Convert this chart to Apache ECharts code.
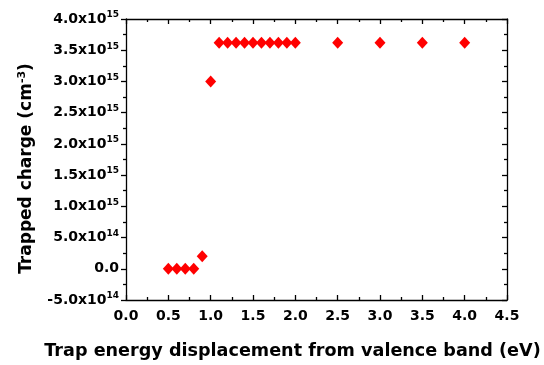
<!DOCTYPE html>
<html><head><meta charset="utf-8">
<script src="https://cdn.jsdelivr.net/npm/echarts@6/dist/echarts.min.js"></script>
<style>html,body{margin:0;padding:0;background:#fff}#c{width:544px;height:365px}</style>
</head><body><div id="c"></div>
<script>
const xValues = [0.5, 0.6, 0.7, 0.8, 0.9, 1.0, 1.1, 1.2, 1.3, 1.4, 1.5, 1.6, 1.7, 1.8, 1.9, 2.0, 2.5, 3.0, 3.5, 4.0];
const yValues = [0, 0, 0, 0, 2.0e14, 3.0e15, 3.62e15, 3.62e15, 3.62e15, 3.62e15, 3.62e15, 3.62e15, 3.62e15, 3.62e15, 3.62e15, 3.62e15, 3.62e15, 3.62e15, 3.62e15, 3.62e15];
const xTicks = {min: 0, max: 4.5, interval: 0.5};
const yTicks = {min: -5e14, max: 4e15, interval: 5e14};

const FONT = 'DejaVu Sans, sans-serif';
function sci(v) {
  if (Math.abs(v) < 1) return '0.0';
  const e = Math.floor(Math.log10(Math.abs(v)) + 1e-9);
  const m = v / Math.pow(10, e);
  return m.toFixed(1) + 'x10{sup|' + e + '}';
}
const chart = echarts.init(document.getElementById('c'), null, {renderer: 'canvas'});
const lineStyle = {color: '#000', width: 1.3};
chart.setOption({
  animation: false,
  backgroundColor: '#fff',
  grid: {left: 126, right: 37, top: 19, bottom: 65, containLabel: false, outerBoundsMode: 'none'},
  xAxis: [{
    type: 'value', min: xTicks.min, max: xTicks.max, interval: xTicks.interval,
    name: 'Trap energy displacement from valence band (eV)',
    nameLocation: 'middle', nameGap: 42,
    nameTextStyle: {fontFamily: FONT, fontWeight: 'bold', fontSize: 17.6, color: '#000', padding: [0, 48, 0, 0]},
    axisLine: {show: true, onZero: false, lineStyle},
    axisTick: {show: true, inside: true, length: 5, lineStyle},
    minorTick: {show: true, splitNumber: 2, length: 3, lineStyle},
    splitLine: {show: false},
    axisLabel: {fontFamily: FONT, fontWeight: 'bold', fontSize: 14, color: '#000', margin: 9,
      formatter: v => v.toFixed(1)}
  }, {
    type: 'value', position: 'top', min: xTicks.min, max: xTicks.max, interval: xTicks.interval,
    axisLine: {show: true, onZero: false, lineStyle},
    axisTick: {show: true, inside: true, length: 5, lineStyle},
    minorTick: {show: true, splitNumber: 2, length: 3, lineStyle},
    splitLine: {show: false}, axisLabel: {show: false}
  }],
  yAxis: [{
    type: 'value', min: yTicks.min, max: yTicks.max, interval: yTicks.interval,
    name: 'Trapped charge (cm{sup|-3})',
    nameLocation: 'middle', nameGap: 89, nameRotate: 90,
    nameTextStyle: {fontFamily: FONT, fontWeight: 'bold', fontSize: 17, color: '#000', padding: [0, 18, 0, 0],
      rich: {sup: {fontFamily: FONT, fontWeight: 'bold', fontSize: 11, color: '#000', padding: [0, 0, 9, 0]}}},
    axisLine: {show: true, onZero: false, lineStyle},
    axisTick: {show: true, inside: false, length: 5, lineStyle},
    minorTick: {show: true, splitNumber: 2, length: 3, lineStyle},
    splitLine: {show: false},
    axisLabel: {fontFamily: FONT, fontWeight: 'bold', fontSize: 14, color: '#000', margin: 7,
      formatter: sci,
      rich: {sup: {fontFamily: FONT, fontWeight: 'bold', fontSize: 9, color: '#000', padding: [0, 0, 8, 0]}}}
  }, {
    type: 'value', position: 'right', min: yTicks.min, max: yTicks.max, interval: yTicks.interval,
    axisLine: {show: true, onZero: false, lineStyle},
    axisTick: {show: true, inside: true, length: 5, lineStyle},
    minorTick: {show: true, splitNumber: 2, length: 3, lineStyle},
    splitLine: {show: false}, axisLabel: {show: false}
  }],
  series: [{
    type: 'scatter', xAxisIndex: 0, yAxisIndex: 0,
    symbol: 'diamond', symbolSize: [11, 12],
    itemStyle: {color: '#ff0000', opacity: 1},
    data: xValues.map((x, i) => [x, yValues[i]])
  }]
});
</script></body></html>
